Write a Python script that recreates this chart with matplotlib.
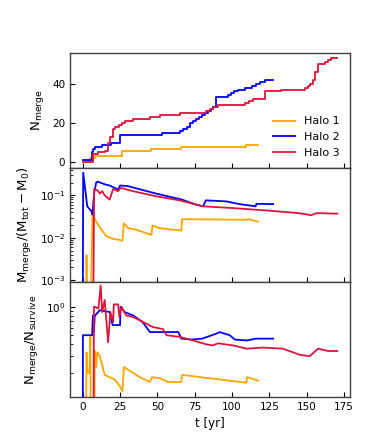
import numpy as np
import matplotlib.pyplot as plt
from matplotlib.ticker import NullFormatter

plt.rcParams['mathtext.default'] = 'regular'

colors = ['#FFA500', '#0000FF', '#DC143C']
labels = ['Halo 1', 'Halo 2', 'Halo 3']

# cumulative number of mergers (step changes)
n1_t = [2, 4.7, 8, 26.6, 46, 66, 109.6, 117.4]
n1_n = [0, 2, 3, 6, 7, 8, 9, 9]
n2_t = [0, 6, 7, 8, 13, 19, 25, 53, 65, 67, 70, 72, 74, 76, 78, 80, 82, 84, 86, 87.5,
        89.5, 97, 99, 101, 104, 108.5, 113, 116, 119, 122, 127.5]
n2_n = [1, 5, 7, 8, 9, 10, 14, 15, 16, 17, 18, 20, 21, 22, 23, 24, 25, 26, 27, 28,
        33, 34, 35, 36, 37, 38, 39, 40, 41, 42, 42]
n3_t = [0, 7, 10, 14.7, 17, 18, 20, 21.4, 24, 26, 28, 33.7, 45, 51.5, 65, 82.8, 85, 87,
        90.6, 108.5, 111, 114, 122, 133, 148.7, 151, 152.5, 154, 155.5, 157.6, 162, 164,
        166.5, 170.5]
n3_n = [0, 4, 5, 6, 10, 13, 17, 18, 19, 20, 21, 22, 23, 24, 25, 26, 27, 28,
        29, 30, 31, 32, 36, 37, 38, 39, 40, 42, 46, 50, 51, 52,
        53, 53]

# merged mass fraction
m1_t = [2, 2.5, 3.2, 5.2, 6.5, 9, 12.5, 15.8, 20, 24.8, 26.6, 27.5, 30.4, 36, 46, 46.7,
        51.6, 66, 66.5, 109.6, 110.5, 117.4]
m1_v = [1e-4, 0.0039, 1e-4, 1e-4, 0.036, 0.024, 0.0154, 0.011, 0.0095, 0.0089, 0.0085,
        0.022, 0.017, 0.0154, 0.0117, 0.0194, 0.0168, 0.0148, 0.0274, 0.0266, 0.0275, 0.024]
m2_t = [0, 0.3, 2, 3, 5.8, 6.5, 7.6, 9, 10, 15, 18, 23.7, 25, 30, 49, 66, 76, 80.6, 82.4,
        96, 105, 115.8, 116.3, 127.5]
m2_v = [1e-4, 0.34, 0.11, 0.055, 0.042, 0.035, 0.11, 0.2, 0.21, 0.18, 0.17, 0.136, 0.17,
        0.165, 0.11, 0.08, 0.06, 0.055, 0.076, 0.072, 0.062, 0.055, 0.063, 0.062]
m3_t = [7, 7.6, 10, 11.4, 13, 14.7, 18, 20.3, 23.7, 25.4, 33.7, 49, 65, 80.6, 100.7, 123,
        145, 153, 156.5, 170.5]
m3_v = [1e-4, 0.14, 0.13, 0.11, 0.125, 0.1, 0.079, 0.14, 0.125, 0.15, 0.125, 0.095, 0.076,
        0.055, 0.05, 0.044, 0.038, 0.034, 0.038, 0.037]

# merged / surviving ratio
r1_t = [2, 2.5, 3.2, 4.5, 5.1, 5.6, 7.8, 8, 9, 9.7, 11.4, 14.7, 18, 21.4, 24.8, 26.6,
        27.5, 31.5, 38, 45, 46.4, 51.6, 57, 66, 66.5, 109.6, 110, 117.4]
r1_v = [0.01, 0.33, 0.2, 0.2, 0.48, 0.01, 0.01, 0.34, 0.23, 0.33, 0.3, 0.19, 0.18, 0.17,
        0.144, 0.127, 0.23, 0.21, 0.18, 0.16, 0.18, 0.175, 0.16, 0.16, 0.19, 0.157, 0.18, 0.165]
r2_t = [0, 0.1, 6.3, 6.8, 7.5, 8, 11.4, 18, 20, 25, 25.3, 28, 33.7, 40, 45, 64, 66, 72.8,
        80, 89.5, 91.7, 98.4, 101.8, 110, 116, 127.5]
r2_v = [0.01, 0.5, 0.5, 0.81, 0.55, 0.8, 0.92, 0.88, 0.64, 0.64, 1.0, 0.88, 0.81, 0.69,
        0.54, 0.54, 0.46, 0.45, 0.46, 0.52, 0.54, 0.5, 0.45, 0.44, 0.46, 0.46]
r3_t = [7, 7.5, 8, 10.5, 12, 13, 14.7, 17, 18.5, 20.3, 20.8, 23.7, 24.5, 26, 29, 33.7,
        40.4, 47, 53.8, 56, 65, 74, 82.8, 87, 90.6, 100.7, 109.6, 120.8, 134, 145.3, 152,
        157.6, 164.3, 170.5]
r3_v = [0.01, 1.0, 1.0, 0.96, 1.68, 0.88, 1.18, 0.42, 0.88, 0.69, 1.06, 1.06, 0.78, 1.0,
        0.81, 0.78, 0.69, 0.61, 0.58, 0.5, 0.48, 0.44, 0.4, 0.39, 0.41, 0.39, 0.36, 0.37,
        0.36, 0.31, 0.3, 0.36, 0.34, 0.34]


def style_axis(ax):
    ax.tick_params(which='both', direction='in', top=False, right=False, labelsize=7.5)
    for s in ax.spines.values():
        s.set_color('0.25')
        s.set_linewidth(1.0)


fig = plt.figure(figsize=(3.89, 4.47), dpi=100)
left, width = 0.18, 0.72
h = 0.2566
ax1 = fig.add_axes([left, 0.112 + 2 * h, width, h])
ax2 = fig.add_axes([left, 0.112 + h, width, h], sharex=ax1)
ax3 = fig.add_axes([left, 0.112, width, h], sharex=ax1)

for t, n, c, lab in zip([n1_t, n2_t, n3_t], [n1_n, n2_n, n3_n], colors, labels):
    ax1.plot(t, n, color=c, lw=1.3, drawstyle='steps-post', label=lab)
ax1.set_ylabel(r'$N_{merge}$', fontsize=9.5)
ax1.set_yticks([0, 20, 40])
ax1.legend(loc='lower right', frameon=False, fontsize=8)

for t, v, c in zip([m1_t, m2_t, m3_t], [m1_v, m2_v, m3_v], colors):
    ax2.plot(t, v, color=c, lw=1.3)
ax2.set_yscale('log')
ax2.set_ylim(9e-4, 0.45)
ax2.set_ylabel(r'$M_{merge}/(M_{tot}-M_0)$', fontsize=9.5)

for t, v, c in zip([r1_t, r2_t, r3_t], [r1_v, r2_v, r3_v], colors):
    ax3.plot(t, v, color=c, lw=1.3)
ax3.set_yscale('log')
ax3.set_ylim(0.111, 1.82)
ax3.yaxis.set_minor_formatter(NullFormatter())
ax3.set_ylabel(r'$N_{merge}/N_{survive}$', fontsize=9.5)
ax3.set_xlabel('t [yr]', fontsize=8.5)
ax3.set_xticks([0, 25, 50, 75, 100, 125, 150, 175])

for ax in (ax1, ax2, ax3):
    style_axis(ax)
plt.setp(ax1.get_xticklabels(), visible=False)
plt.setp(ax2.get_xticklabels(), visible=False)

fig.savefig('out.png', dpi=100)
